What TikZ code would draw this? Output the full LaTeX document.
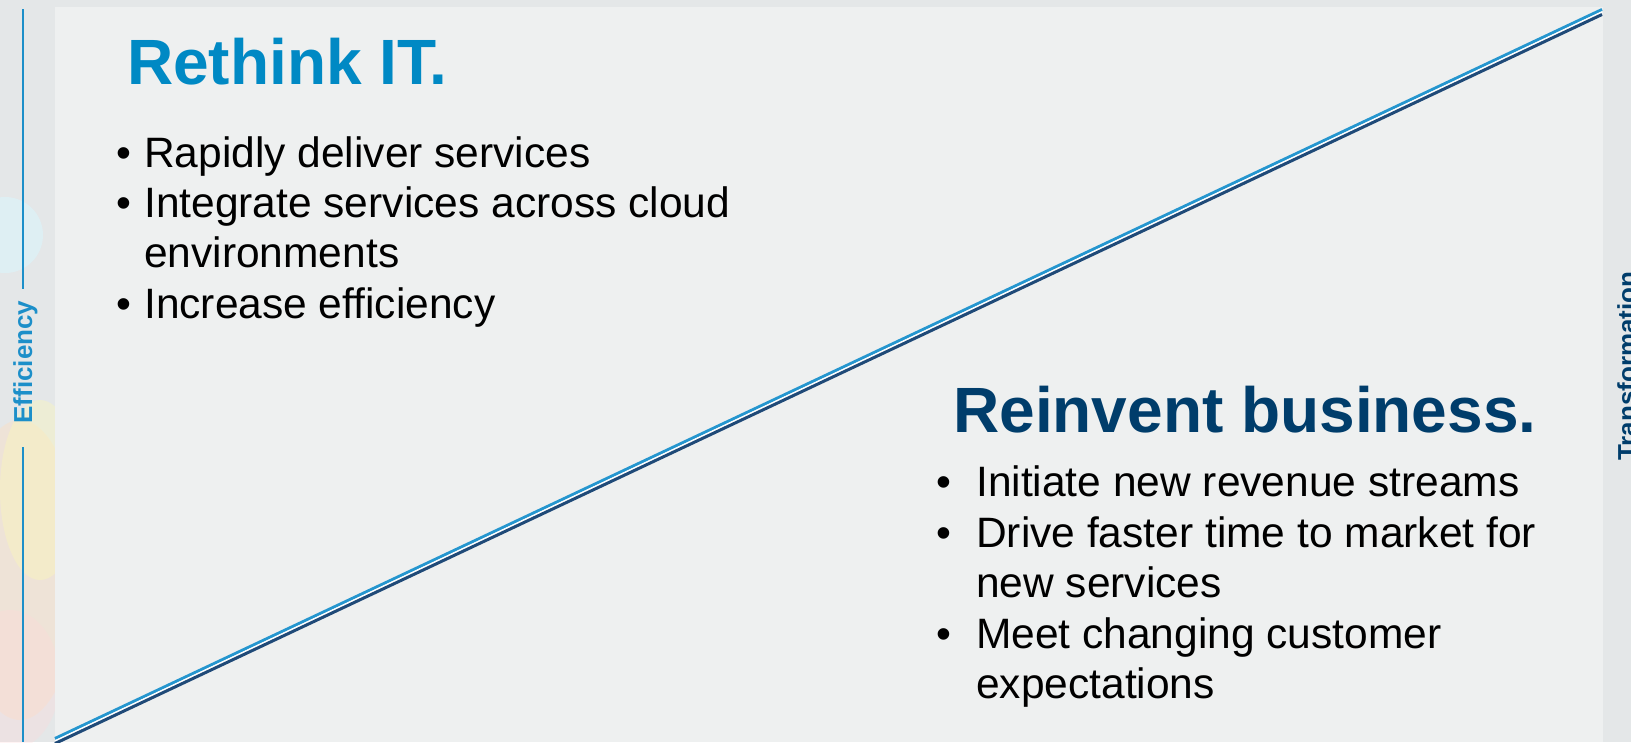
\documentclass[tikz,border=0pt]{standalone}
\usepackage{fontspec}
\setmainfont{Liberation Sans}
\definecolor{itblue}{HTML}{0089C4}
\definecolor{bizblue}{HTML}{003D6B}
\definecolor{panelgray}{HTML}{EEF0F0}
\definecolor{stripgray}{HTML}{E4E7E8}
\definecolor{lineblue}{HTML}{2596CF}
\definecolor{linenavy}{HTML}{1F4A78}
\definecolor{axisblue}{HTML}{1C8FC9}

\begin{document}
\begin{tikzpicture}[x=1pt,y=-1pt,
	title/.style={anchor=base west, inner sep=0pt, font=\bfseries\fontsize{64}{70}\selectfont},
	item/.style={anchor=base west, inner sep=0pt, font=\fontsize{42.5}{51}\selectfont},
	axislabel/.style={inner sep=0pt, rotate=90, font=\bfseries\fontsize{26}{28}\selectfont}]
	\useasboundingbox (0,0) rectangle (1631,742);
	\fill[stripgray] (0,0) rectangle (1631,742);
	% faint blobs on the left strip
	\begin{scope}
		\clip (0,0) rectangle (55,742);
		\fill[blue!20!cyan!15, opacity=0.5] (5,235) circle (38);
		\fill[orange!25, opacity=0.4] (20,570) ellipse (60 and 150);
		\fill[yellow!30, opacity=0.35] (40,490) ellipse (40 and 90);
		\fill[red!15, opacity=0.3] (10,680) ellipse (50 and 70);
	\end{scope}
	\fill[panelgray] (55,7) rectangle (1603,742);
	% axis labels
	\node[axislabel, text=axisblue, anchor=base] (eff) at (32,362) {Efficiency};
	\coordinate (efftop) at (23,9);
	\coordinate (effend) at (23,289);
	\coordinate (effstart) at (23,447);
	\coordinate (effbot) at (23,742);
	\draw[axisblue, line width=2.2pt] (efftop) -- (effend);
	\draw[axisblue, line width=2.2pt] (effstart) -- (effbot);
	\node[axislabel, text=bizblue, anchor=north] (trans) at (1617,366) {Transformation};
	% the diagonal
	\coordinate (lo) at (55,741);
	\coordinate (hi) at (1602,12);
	\draw[lineblue, line width=3pt] ([yshift=2.5pt]lo) -- ([yshift=2.5pt]hi);
	\draw[white, line width=1.6pt] (lo) -- (hi);
	\draw[linenavy, line width=3pt] ([yshift=-2.5pt]lo) -- ([yshift=-2.5pt]hi);
	% upper left block
	\node[title, text=itblue] (rethink) at (127,84) {Rethink IT.};
	\node[item] (b1) at (116,167) {\textbullet};
	\node[item] (t1) at (144,167) {Rapidly deliver services};
	\node[item] (b2) at (116,217) {\textbullet};
	\node[item] (t2) at (144,217) {Integrate services across cloud};
	\node[item] (t2b) at (144,267) {environments};
	\node[item] (b3) at (116,318) {\textbullet};
	\node[item] (t3) at (144,318) {Increase efficiency};
	% lower right block
	\node[title, text=bizblue] (reinvent) at (953,432) {Reinvent business.};
	\node[item] (c1) at (936,496) {\textbullet};
	\node[item] (s1) at (976,496) {Initiate new revenue streams};
	\node[item] (c2) at (936,547) {\textbullet};
	\node[item] (s2) at (976,547) {Drive faster time to market for};
	\node[item] (s2b) at (976,597) {new services};
	\node[item] (c3) at (936,648) {\textbullet};
	\node[item] (s3) at (976,648) {Meet changing customer};
	\node[item] (s3b) at (976,698) {expectations};
\end{tikzpicture}
\end{document}
